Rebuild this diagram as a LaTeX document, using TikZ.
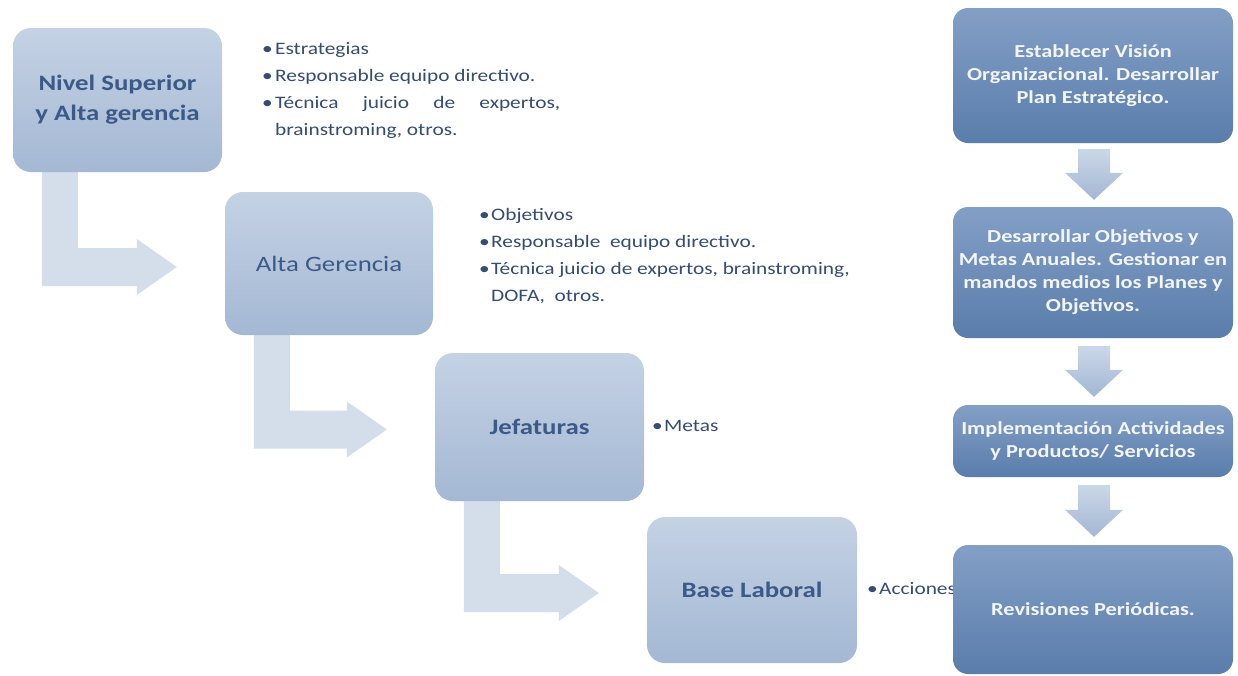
\documentclass[tikz,border=0pt]{standalone}
\usepackage{fontspec}
\setmainfont{Carlito}[FakeStretch=1.22]
\usetikzlibrary{calc,backgrounds}
\definecolor{lbtop}{HTML}{C4D2E4}
\definecolor{lbbot}{HTML}{A4B8D4}
\definecolor{lbtext}{HTML}{3B5A88}
\definecolor{larr}{HTML}{D4DDEA}
\definecolor{rbtop}{HTML}{839FC6}
\definecolor{rbbot}{HTML}{5A7DAB}
\definecolor{rtext}{HTML}{F2F5FA}
\definecolor{ratop}{HTML}{CAD7E8}
\definecolor{rabot}{HTML}{A3B7D3}
\definecolor{btext}{HTML}{354C73}
\newcommand\larrowpath[2]{%
  \fill[larr] let \p1=(#1), \p2=(#2) in
    (\x1,\y1) -- (\x1+36pt,\y1) -- (\x1+36pt,\y2+19pt) -- (\x2-40pt,\y2+19pt)
    -- (\x2-40pt,\y2+28pt) -- (\x2,\y2) -- (\x2-40pt,\y2-28pt)
    -- (\x2-40pt,\y2-19pt) -- (\x1,\y2-19pt) -- cycle;}
\newcommand\darrowpath[2]{%
  \shade[top color=ratop,bottom color=rabot] let \p1=(#1), \p2=(#2) in
    (\x1-16pt,\y1) -- (\x1+16pt,\y1) -- (\x1+16pt,\y2+27pt) -- (\x1+29pt,\y2+27pt)
    -- (\x1,\y2) -- (\x1-29pt,\y2+27pt) -- (\x1-16pt,\y2+27pt) -- cycle;}
\begin{document}
\begin{tikzpicture}[x=1pt,y=-1pt,
  lbox/.style={rounded corners=18pt, top color=lbtop, bottom color=lbbot,
    align=center, text=lbtext, inner sep=0pt},
  lboldfont/.style={font=\bfseries\fontsize{22}{30}\selectfont},
  lregfont/.style={font=\fontsize{22}{30}\selectfont},
  rbox/.style={rounded corners=15pt, top color=rbtop, bottom color=rbbot,
    minimum width=280pt, align=center, text=rtext, inner sep=0pt,
    font=\bfseries\fontsize{18.3}{23}\selectfont},
  bline/.style={anchor=west, text=btext, inner sep=0pt,
    font=\fontsize{17.5}{27}\selectfont, text height=12pt, text depth=4pt},
]
\useasboundingbox (0,0) rectangle (1238,675);

% left staircase boxes
\node[lbox, lboldfont, minimum width=209pt, minimum height=144pt] (b1) at (117.5,100) {Nivel Superior\\y Alta gerencia};
\node[lbox, lregfont, minimum width=208pt, minimum height=143pt] (b2) at (329,263.5) {Alta Gerencia};
\node[lbox, lboldfont, minimum width=209pt, minimum height=148pt] (b3) at (539.5,427) {Jefaturas};
\node[lbox, lboldfont, minimum width=210pt, minimum height=146pt] (b4) at (752,590) {Base Laboral};

% bullet texts
\node[bline] (e1) at (262,50) {\makebox[13pt][l]{•}Estrategias};
\node[bline] (e2) at (262,77) {\makebox[13pt][l]{•}Responsable equipo directivo.};
\node[bline] (e3) at (262,104) {\makebox[13pt][l]{•}\makebox[285pt][s]{Técnica juicio de expertos,}};
\node[bline] (e4) at (275,131) {brainstroming, otros.};

\node[bline] (o1) at (479,216) {\makebox[12pt][l]{•}Objetivos};
\node[bline] (o2) at (479,243) {\makebox[12pt][l]{•}Responsable\ \ equipo directivo.};
\node[bline] (o3) at (479,270) {\makebox[12pt][l]{•}Técnica juicio de expertos, brainstroming,};
\node[bline] (o4) at (491,297) {DOFA,\ \ otros.};

\node[bline] (m1) at (652,427) {\makebox[12pt][l]{•}Metas};
\node[bline] (c1) at (867,590) {\makebox[12pt][l]{•}Acciones};

% L-shaped arrows
\coordinate (a1s) at ($(b1.south west)+(29,-2)$);
\coordinate (a1t) at ($(b2.west)+(-48,3.5)$);
\coordinate (a2s) at ($(b2.south west)+(29,-2)$);
\coordinate (a2t) at ($(b3.west)+(-48,2.5)$);
\coordinate (a3s) at ($(b3.south west)+(29,-2)$);
\coordinate (a3t) at ($(b4.west)+(-48,3)$);
\begin{pgfonlayer}{background}
\fill[white] (0,0) rectangle (1238,675);
\larrowpath{a1s}{a1t}
\larrowpath{a2s}{a2t}
\larrowpath{a3s}{a3t}
\end{pgfonlayer}

% right column
\node[rbox, minimum height=135pt] (r1) at (1093,75.5) {Establecer Visión\\Organizacional. Desarrollar\\Plan Estratégico.};
\node[rbox, minimum height=131pt] (r2) at (1093,272.5) {Desarrollar Objetivos y\\Metas Anuales. Gestionar en\\mandos medios los Planes y\\Objetivos.};
\node[rbox, minimum height=72pt] (r3) at (1093,441) {Implementación Actividades\\y Productos/ Servicios};
\node[rbox, minimum height=129pt] (r4) at (1093,609.5) {Revisiones Periódicas.};

\coordinate (d1s) at ($(r1.south)+(1,6)$);
\coordinate (d1t) at ($(r2.north)+(1,-7)$);
\coordinate (d2s) at ($(r2.south)+(1,8)$);
\coordinate (d2t) at ($(r3.north)+(1,-8)$);
\coordinate (d3s) at ($(r3.south)+(1,8)$);
\coordinate (d3t) at ($(r4.north)+(1,-8)$);
\darrowpath{d1s}{d1t}
\darrowpath{d2s}{d2t}
\darrowpath{d3s}{d3t}
\end{tikzpicture}
\end{document}
